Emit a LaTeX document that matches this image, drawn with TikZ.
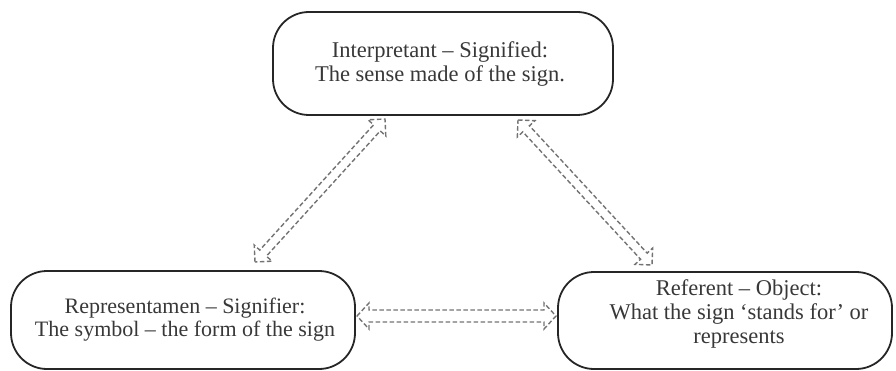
\documentclass[tikz,border=0pt]{standalone}
\usepackage{fontspec}
\setmainfont{Liberation Serif}
\usetikzlibrary{calc}
\tikzset{
  box/.style={draw=black!85, line width=1.8pt, rounded corners=36pt, inner sep=0pt},
  txt/.style={align=center, text=black!78, font=\fontsize{22.5}{24}\selectfont, inner sep=0pt},
  hollow/.style={draw=black!55, line width=1.4pt, dash pattern=on 4.5pt off 2.5pt, line join=miter}
}
% #1 tip A, #2 tip B, #3 shaft half width, #4 head half width, #5 head length
\newcommand\hollowarrow[5]{%
  \draw[hollow] (#1)
    -- ($(#1)!#5!(#2)!#4!90:(#2)$)
    -- ($(#1)!#5!(#2)!#3!90:(#2)$)
    -- ($(#2)!#5!(#1)!#3!-90:(#1)$)
    -- ($(#2)!#5!(#1)!#4!-90:(#1)$)
    -- (#2)
    -- ($(#2)!#5!(#1)!#4!90:(#1)$)
    -- ($(#2)!#5!(#1)!#3!90:(#1)$)
    -- ($(#1)!#5!(#2)!#3!-90:(#2)$)
    -- ($(#1)!#5!(#2)!#4!-90:(#2)$)
    -- cycle;}
\begin{document}
\begin{tikzpicture}[x=1pt,y=-1pt]
\useasboundingbox (0,0) rectangle (896,371);
\node[box, minimum width=340pt, minimum height=103pt] (interp) at (443,63.5) {};
\node[box, minimum width=344pt, minimum height=98pt] (repr) at (183,320) {};
\node[box, minimum width=334pt, minimum height=97pt] (refer) at (725,320.5) {};
\node[txt] (interpT) at (440,64) {Interpretant -- Signified:\\The sense made of the sign.};
\node[txt, font=\fontsize{22}{23}\selectfont] (reprT) at (185,320) {Representamen -- Signifier:\\The symbol -- the form of the sign};
\node[txt] (referT) at (739,314) {Referent -- Object:\\What the sign `stands for' or\\represents};
\coordinate (a1) at (255,262);
\coordinate (b1) at (385,119);
\coordinate (a2) at (518,120);
\coordinate (b2) at (652,265);
\coordinate (a3) at (357,316);
\coordinate (b3) at (556,316);
\hollowarrow{a1}{b1}{4.5pt}{12pt}{12pt}
\hollowarrow{a2}{b2}{4.5pt}{12pt}{12pt}
\hollowarrow{a3}{b3}{6pt}{13pt}{12pt}
\end{tikzpicture}
\end{document}
